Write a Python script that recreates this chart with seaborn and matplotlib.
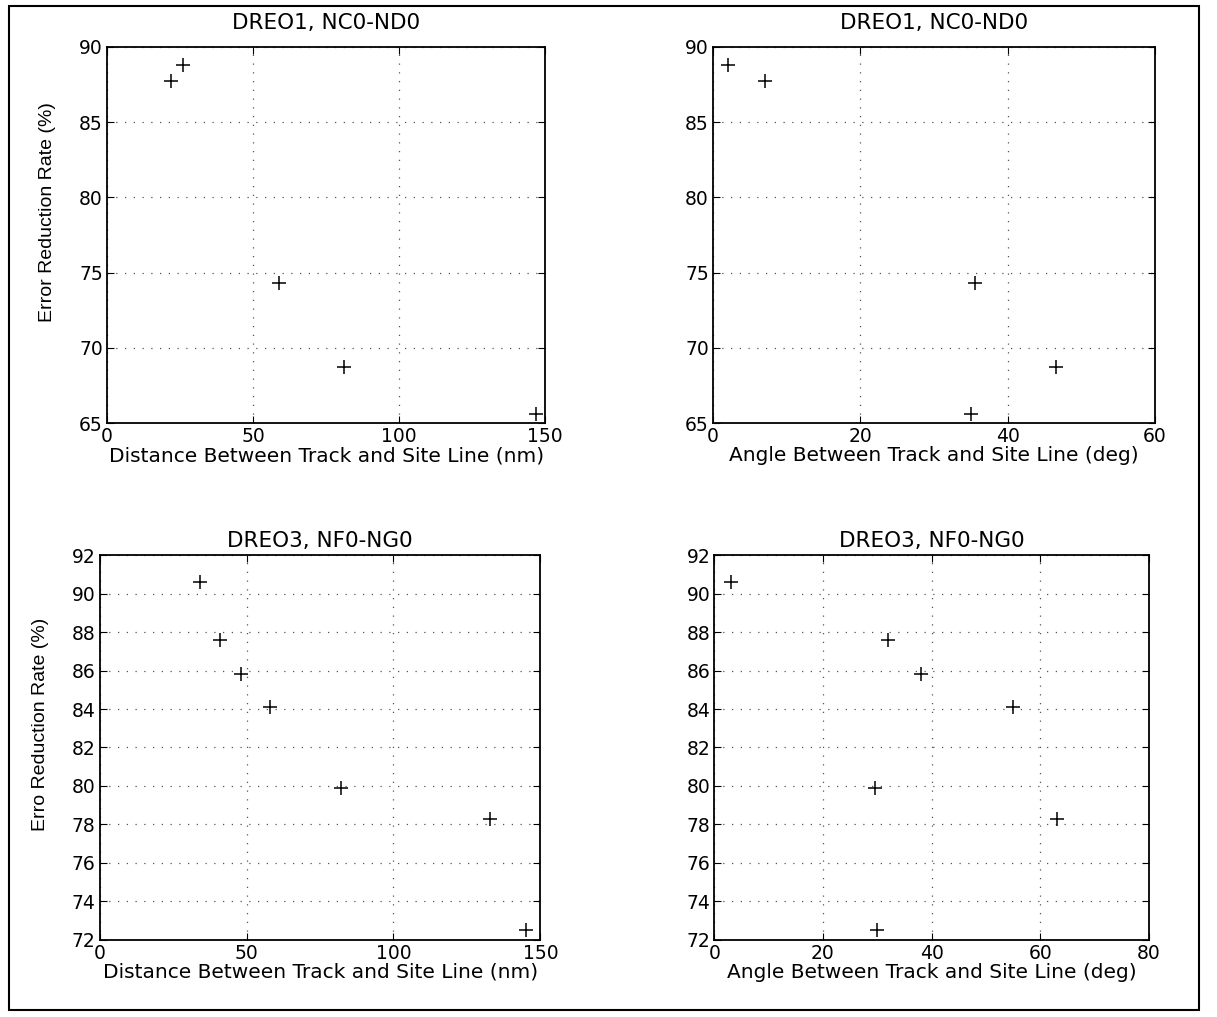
#!/usr/bin/env python3
import matplotlib
matplotlib.use("Agg")
import matplotlib.pyplot as plt
import pandas as pd
import seaborn as sns

# ------------------------------------------------------------------------------
# Data
# ------------------------------------------------------------------------------
DREO1_DIST = [22, 26, 59, 81, 147]
DREO1_ANGLE = [7, 2, 35.5, 46.5, 35]
DREO1_ERR = [87.7, 88.8, 74.3, 68.7, 65.6]

DREO3_DIST = [34, 41, 48, 58, 82, 133, 145]
DREO3_ANGLE = [3, 32, 38, 55, 29.5, 63, 30]
DREO3_ERR = [90.6, 87.6, 85.8, 84.1, 79.9, 78.3, 72.5]

TITLE_1 = "DREO1, NC0-ND0"
TITLE_3 = "DREO3, NF0-NG0"
DIST_LABEL = "Distance Between Track and Site Line (nm)"
ANGLE_LABEL = "Angle Between Track and Site Line (deg)"
YLABEL_1 = "Error Reduction Rate (%)"
YLABEL_3 = "Erro Reduction Rate (%)"

DIST_TICKS = [0, 50, 100, 150]
ANGLE_TICKS_1 = [0, 20, 40, 60]
ANGLE_TICKS_3 = [0, 20, 40, 60, 80]
Y_TICKS_1 = [65, 70, 75, 80, 85, 90]
Y_TICKS_3 = list(range(72, 93, 2))

# ------------------------------------------------------------------------------
# Plot parameters
# ------------------------------------------------------------------------------
FONT = ["DejaVu Sans"]
NARROW = ["Liberation Sans Narrow", "Liberation Sans", "DejaVu Sans"]
TICK_FS = 13.5
LABEL_FS = 14.5
TITLE_FS = 15.5
YLABEL_FS = 14

sns.set_theme(style="white")
plt.rcParams["font.family"] = FONT
plt.rcParams["text.color"] = "black"
plt.rcParams["axes.labelcolor"] = "black"


def draw(ax, x, y, xticks, yticks, title, xlabel, ylabel, title_pad):
  df = pd.DataFrame({"x": x, "y": y})
  sns.scatterplot(data=df, x="x", y="y", ax=ax, marker="+", s=90,
                  color="black", linewidth=1.1)
  ax.set_xlim(xticks[0], xticks[-1])
  ax.set_ylim(yticks[0], yticks[-1])
  ax.set_xticks(xticks)
  ax.set_yticks(yticks)
  ax.grid(True, color="#555555", linestyle=(0, (1, 6)), linewidth=0.9)
  ax.tick_params(direction="in", length=5, width=0.8, labelsize=TICK_FS,
                 top=True, right=True, bottom=True, left=True, pad=3,
                 colors="black")
  for sp in ax.spines.values():
    sp.set_color("black")
    sp.set_linewidth(1.3)
  ax.set_title(title, fontsize=TITLE_FS, pad=title_pad, color="black")
  ax.set_xlabel(xlabel, fontsize=LABEL_FS, labelpad=0, color="black")
  if ylabel:
    ax.set_ylabel(ylabel, fontsize=YLABEL_FS, family=NARROW, color="black",
                  va="center")
    ax.yaxis.set_label_coords(-0.135, 0.56)
  else:
    ax.set_ylabel("")


fig = plt.figure(figsize=(12.17, 10.17), dpi=100)
fig.patch.set_facecolor("white")

ax1 = fig.add_axes([0.088, 0.584, 0.360, 0.370])
ax2 = fig.add_axes([0.586, 0.584, 0.363, 0.370])
ax3 = fig.add_axes([0.082, 0.076, 0.362, 0.378])
ax4 = fig.add_axes([0.587, 0.076, 0.357, 0.378])

draw(ax1, DREO1_DIST, DREO1_ERR, DIST_TICKS, Y_TICKS_1, TITLE_1, DIST_LABEL,
     YLABEL_1, 13)
draw(ax2, DREO1_ANGLE, DREO1_ERR, ANGLE_TICKS_1, Y_TICKS_1, TITLE_1,
     ANGLE_LABEL, None, 13)
draw(ax3, DREO3_DIST, DREO3_ERR, DIST_TICKS, Y_TICKS_3, TITLE_3, DIST_LABEL,
     YLABEL_3, 6)
draw(ax4, DREO3_ANGLE, DREO3_ERR, ANGLE_TICKS_3, Y_TICKS_3, TITLE_3,
     ANGLE_LABEL, None, 6)

# scanned page border
border = plt.Rectangle((0.007, 0.007), 0.978, 0.987, transform=fig.transFigure,
                       fill=False, edgecolor="black", linewidth=1.5)
fig.patches.append(border)

fig.savefig("out.png", dpi=100, facecolor="white")
